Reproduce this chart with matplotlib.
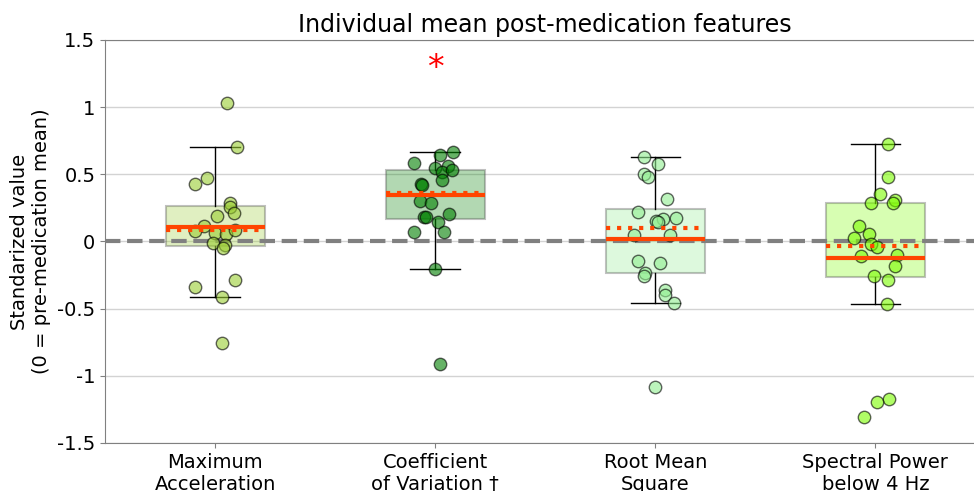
import numpy as np
import matplotlib
matplotlib.use("Agg")
import matplotlib.pyplot as plt
from matplotlib import cbook

# feature names on the x axis
features = ["Maximum\nAcceleration", "Coefficient\nof Variation \u2020",
            "Root Mean\nSquare", "Spectral Power\nbelow 4 Hz"]
colors = ["yellowgreen", "green", "lightgreen", "lawngreen"]

# standardized post-medication values per subject
max_acc = [1.03, 0.706, 0.475, 0.426, 0.289, 0.259, 0.21, 0.192, 0.115, 0.08,
           0.061, 0.053, 0.086, -0.014, -0.026, -0.051, -0.287, -0.341, -0.416, -0.758]
coef_var = [0.582, 0.644, 0.664, 0.564, 0.545, 0.52, 0.53, 0.458, 0.428, 0.304,
            0.289, 0.180, 0.180, 0.205, 0.143, 0.073, 0.068, -0.207, -0.912, 0.42]
rms = [0.632, 0.575, 0.500, 0.483, 0.316, 0.217, 0.165, 0.153, 0.148, 0.177,
       0.048, 0.048, -0.143, -0.163, -0.232, -0.255, -0.361, -0.398, -0.460, -1.081]
spec_pow = [0.724, 0.483, 0.354, 0.309, 0.289, 0.289, 0.115, 0.053, 0.024, -0.019,
            -0.043, -0.106, -0.101, -0.182, -0.257, -0.287, -0.468, -1.175, -1.193, -1.309]

# horizontal jitter of each subject's point
jit_max_acc = [0.054, 0.099, -0.035, -0.093, 0.070, 0.070, 0.085, 0.010, -0.048, -0.093,
               -0.002, 0.051, 0.089, -0.010, 0.043, 0.035, 0.089, -0.093, 0.031, 0.033]
jit_coef_var = [-0.094, 0.020, 0.080, 0.060, 0.000, 0.030, 0.075, 0.030, -0.064, -0.067,
                -0.018, -0.052, -0.041, 0.065, 0.012, -0.097, 0.039, 0.001, 0.020, -0.058]
jit_rms = [-0.053, 0.014, -0.053, -0.031, 0.054, -0.077, 0.034, 0.004, 0.011, 0.094,
           -0.098, 0.069, -0.080, 0.023, -0.045, -0.053, 0.045, 0.045, 0.087, -0.001]
jit_spec_pow = [0.059, 0.059, 0.022, 0.089, 0.081, -0.020, -0.076, -0.031, -0.096, -0.020,
                0.007, -0.065, 0.096, 0.090, -0.008, 0.055, 0.053, 0.063, 0.007, -0.050]

# group mean lines as drawn in the figure
mean_lines = [0.105, 0.346, 0.018, -0.125]

# significance marker
sig_feature = 1
sig_y = 1.29

yticks = [-1.5, -1, -0.5, 0, 0.5, 1, 1.5]

data = [max_acc, coef_var, rms, spec_pow]
jitter = [jit_max_acc, jit_coef_var, jit_rms, jit_spec_pow]

fig = plt.figure(figsize=(9.74, 4.91), dpi=100)
ax = fig.add_axes([0.1078, 0.0978, 0.904, 0.8208])

stats = cbook.boxplot_stats(data)
for st, m in zip(stats, mean_lines):
    st['mean'] = m

pos = np.arange(len(data))
bp = ax.bxp(stats, positions=pos, widths=0.45, capwidths=0.225,
            patch_artist=True, showfliers=False, showmeans=True, meanline=True,
            boxprops=dict(edgecolor=(0.3, 0.3, 0.3, 0.35), linewidth=1.5),
            whiskerprops=dict(color='black', linewidth=1),
            capprops=dict(color='black', linewidth=1),
            medianprops=dict(color='orangered', linewidth=3, linestyle=':'),
            meanprops=dict(color='orangered', linewidth=3, linestyle='-'),
            zorder=2)
for patch, c in zip(bp['boxes'], colors):
    patch.set_facecolor(matplotlib.colors.to_rgba(c, 0.3))
for ln in bp['medians'] + bp['means']:
    ln.set_zorder(4)

ax.axhline(0, color='gray', linestyle='--', linewidth=3, zorder=2.5)

for i, (vals, jit) in enumerate(zip(data, jitter)):
    ax.scatter(i + np.array(jit), vals, s=80, color=colors[i], edgecolors='black',
               linewidths=1, alpha=0.6, zorder=3)

ax.text(sig_feature, sig_y, "*", color='red', fontsize=24, ha='center', va='center')

ax.set_xlim(-0.5, 3.5)
ax.set_ylim(-1.5, 1.5)
ax.set_yticks(yticks)
ax.set_yticklabels([f"{t:g}" for t in yticks], fontsize=14)
ax.set_xticks(pos)
ax.set_xticklabels(features, fontsize=14)
ax.set_ylabel("Standarized value\n(0 = pre-medication mean)", fontsize=14)
ax.set_title("Individual mean post-medication features", fontsize=17)

ax.yaxis.grid(True, color='lightgray', linewidth=1)
ax.set_axisbelow(True)
for sp in ax.spines.values():
    sp.set_color('gray')
ax.tick_params(colors='gray', labelcolor='black')

fig.savefig("out.png", dpi=100)
